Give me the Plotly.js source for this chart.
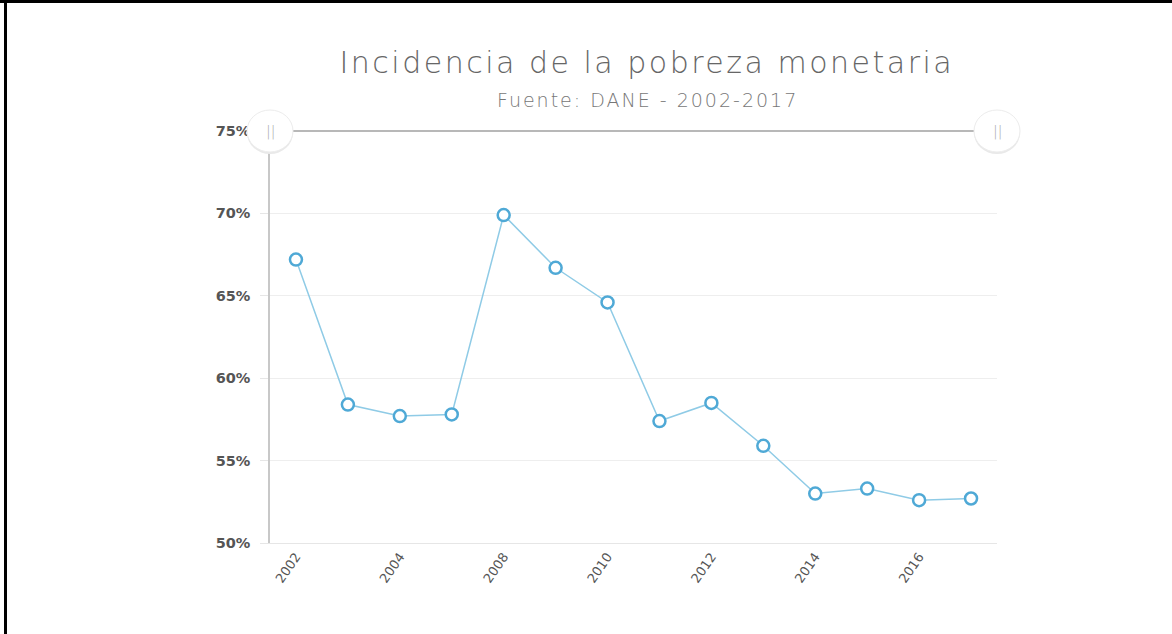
<!DOCTYPE html>
<html>
<head>
<meta charset="utf-8">
<script src="https://cdn.plot.ly/plotly-3.0.1.min.js"></script>
<style>
  html, body { margin: 0; padding: 0; background: #fff; }
  #wrap { position: relative; width: 1172px; height: 634px; }
  #chart { width: 1172px; height: 634px; }
  #frameTop { position: absolute; left: 0; top: 0; width: 1172px; height: 3px; background: #000; }
  #frameLeft { position: absolute; left: 4px; top: 0; width: 3px; height: 634px; background: #000; }
  #chart g.annotation[data-index="0"] text { letter-spacing: 2.5px; }
  #chart g.annotation[data-index="1"] text { letter-spacing: 2px; }
</style>
</head>
<body>
<div id="wrap">
  <div id="chart"></div>
  <div id="frameTop"></div>
  <div id="frameLeft"></div>
</div>
<script>
const years = ['2002','2003','2004','2005','2008','2009','2010','2011','2012','2013','2014','2015','2016','2017'];
const pobreza = [67.2, 58.4, 57.7, 57.8, 69.9, 66.7, 64.6, 57.4, 58.5, 55.9, 53.0, 53.3, 52.6, 52.7];
const tickYears = ['2002','2004','2008','2010','2012','2014','2016'];
const yTicks = [50, 55, 60, 65, 70, 75];
const yTickText = ['50%', '55%', '60%', '65%', '70%', '75%'];
const chartTitle = 'Incidencia de la pobreza monetaria';
const chartSubtitle = 'Fuente: DANE - 2002-2017';

const trace = {
  x: years,
  y: pobreza,
  type: 'scatter',
  mode: 'lines+markers',
  line: { color: '#8fcbe6', width: 1.5 },
  marker: { size: 12, color: '#ffffff', line: { color: '#4fa9d6', width: 2.5 } },
  hoverinfo: 'x+y',
  cliponaxis: false
};

const titleX = (647 - 270) / 727;

const layout = {
  width: 1172,
  height: 634,
  margin: { l: 270, r: 175, t: 131, b: 91 },
  paper_bgcolor: '#ffffff',
  plot_bgcolor: '#ffffff',
  showlegend: false,
  xaxis: {
    type: 'category',
    categoryorder: 'array',
    categoryarray: years,
    range: [-0.5, years.length - 0.5],
    tickmode: 'array',
    tickvals: tickYears,
    ticktext: tickYears,
    tickangle: -55,
    tickfont: { family: 'DejaVu Sans, sans-serif', size: 13, color: '#555555' },
    showgrid: false,
    zeroline: false,
    showline: true,
    linecolor: '#e6e6e6',
    linewidth: 1,
    ticks: '',
    fixedrange: true
  },
  yaxis: {
    range: [50, 75],
    tickmode: 'array',
    tickvals: yTicks,
    ticktext: yTickText,
    tickfont: { family: 'DejaVu Sans, sans-serif', size: 14.5, color: '#555555', weight: 'bold' },
    ticks: 'outside',
    ticklen: 8,
    tickcolor: '#e6e6e6',
    ticklabelstandoff: 7,
    showgrid: true,
    gridcolor: '#eeeeee',
    gridwidth: 1,
    zeroline: false,
    showline: true,
    linecolor: '#c8c8c8',
    linewidth: 1.5,
    fixedrange: true
  },
  shapes: [],
  annotations: [
    {
      xref: 'paper', yref: 'paper', x: titleX, y: 1, yshift: 69,
      text: chartTitle, showarrow: false, xanchor: 'center', yanchor: 'middle',
      font: { family: 'DejaVu Sans, sans-serif', size: 30, color: '#666666', weight: 200 }
    },
    {
      xref: 'paper', yref: 'paper', x: titleX, y: 1, yshift: 31,
      text: chartSubtitle, showarrow: false, xanchor: 'center', yanchor: 'middle',
      font: { family: 'DejaVu Sans, sans-serif', size: 19, color: '#777777', weight: 200 }
    }
  ]
};

// vertical grid lines at each category
years.forEach(function (yr) {
  layout.shapes.push({
    type: 'line', xref: 'x', yref: 'paper', x0: yr, x1: yr, y0: 0, y1: 1,
    line: { color: '#eeeeee', width: 1 }, layer: 'below'
  });
});

// range slider bar at top of the plot
layout.shapes.push({
  type: 'line', xref: 'paper', yref: 'paper', x0: 0, x1: 1, y0: 1, y1: 1,
  line: { color: '#a0a0a0', width: 1.5 }, layer: 'above'
});
[0, 1].forEach(function (px) {
  // soft shadow under the handle
  layout.shapes.push({
    type: 'circle', xref: 'paper', yref: 'paper',
    xsizemode: 'pixel', ysizemode: 'pixel',
    xanchor: px, yanchor: 1,
    x0: -23, x1: 23, y0: -23, y1: 19,
    fillcolor: '#e9e9e9', line: { width: 0 }, layer: 'above'
  });
  layout.shapes.push({
    type: 'circle', xref: 'paper', yref: 'paper',
    xsizemode: 'pixel', ysizemode: 'pixel',
    xanchor: px, yanchor: 1,
    x0: -23, x1: 23, y0: -21, y1: 21,
    fillcolor: '#ffffff', line: { color: '#ececec', width: 1 }, layer: 'above'
  });
  layout.annotations.push({
    xref: 'paper', yref: 'paper', x: px, y: 1, showarrow: false,
    text: '||', xanchor: 'center', yanchor: 'middle',
    font: { family: 'DejaVu Sans, sans-serif', size: 14, color: '#aaaaaa', weight: 200 }
  });
});

Plotly.newPlot('chart', [trace], layout, { displayModeBar: false });
</script>
</body>
</html>
